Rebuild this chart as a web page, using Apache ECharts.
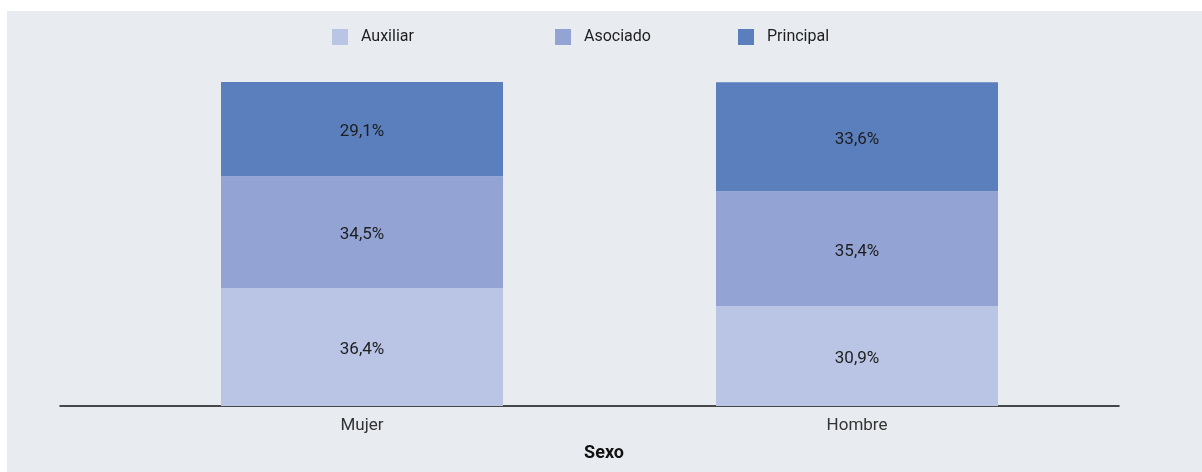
<!DOCTYPE html>
<html>
<head>
<meta charset="utf-8">
<script src="https://cdn.jsdelivr.net/npm/echarts@6/dist/echarts.min.js"></script>
<style>
    html,body{margin:0;padding:0;background:#fff;}
    #main{position:absolute;left:7px;top:11px;width:1195px;height:461px;background:#e8ecf0;}
</style>
</head>
<body>
<div id="main"></div>
<script>
    //--------------------数据---------------------------
    var categorias = ['Mujer', 'Hombre'];
    var auxiliar = [36.4, 30.9];
    var asociado = [34.5, 35.4];
    var principal = [29.1, 33.6];
    var colores = ['#bac4e4', '#93a4d4', '#5b7ebd'];
    //--------------------数据---------------------------

    var fuente = 'Roboto';

    function etiqueta(p){
        return String(p.value).replace('.', ',') + '%';
    }

    function serie(nombre, datos, color){
        return {
            name: nombre,
            type: 'bar',
            stack: 'total',
            barWidth: 282,
            data: datos,
            itemStyle: {color: color},
            label: {
                show: true,
                position: 'inside',
                offset: [0, 3],
                formatter: etiqueta,
                color: '#1e1e1e',
                fontSize: 17,
                fontFamily: fuente
            }
        };
    }

    function leyenda(nombre, x){
        return {
            data: [nombre],
            left: x,
            top: 18,
            padding: 0,
            itemWidth: 16,
            itemHeight: 16,
            itemGap: 0,
            icon: 'rect',
            textStyle: {color: '#1e1e1e', fontSize: 16, fontFamily: fuente, padding: [0, 0, 0, 8]}
        };
    }

    var myChart = echarts.init(document.getElementById('main'));
    option = {
        animation: false,
        title: {
            text: 'Sexo',
            left: 597,
            top: 433,
            padding: 0,
            textAlign: 'center',
            textStyle: {fontSize: 18, fontWeight: 'bold', color: '#111', fontFamily: fuente}
        },
        legend: [
            leyenda('Auxiliar', 325),
            leyenda('Asociado', 548),
            leyenda('Principal', 731)
        ],
        grid: [
            {left: 107.5, width: 990, top: 71, height: 324},
            {left: 53, width: 1059, top: 71, height: 324}
        ],
        xAxis: [
            {
                type: 'category',
                gridIndex: 0,
                data: categorias,
                axisLine: {show: false},
                axisTick: {show: false},
                axisLabel: {color: '#333', fontSize: 17, fontFamily: fuente, margin: 11}
            },
            {
                type: 'value',
                gridIndex: 1,
                min: 0,
                max: 1,
                axisLine: {show: true, lineStyle: {color: '#111', width: 1.5}},
                axisTick: {show: false},
                axisLabel: {show: false},
                splitLine: {show: false}
            }
        ],
        yAxis: [
            {type: 'value', gridIndex: 0, min: 0, max: 100, show: false},
            {type: 'value', gridIndex: 1, min: 0, max: 1, show: false}
        ],
        series: [
            serie('Auxiliar', auxiliar, colores[0]),
            serie('Asociado', asociado, colores[1]),
            serie('Principal', principal, colores[2])
        ]
    };
    myChart.setOption(option);
</script>
</body>
</html>
